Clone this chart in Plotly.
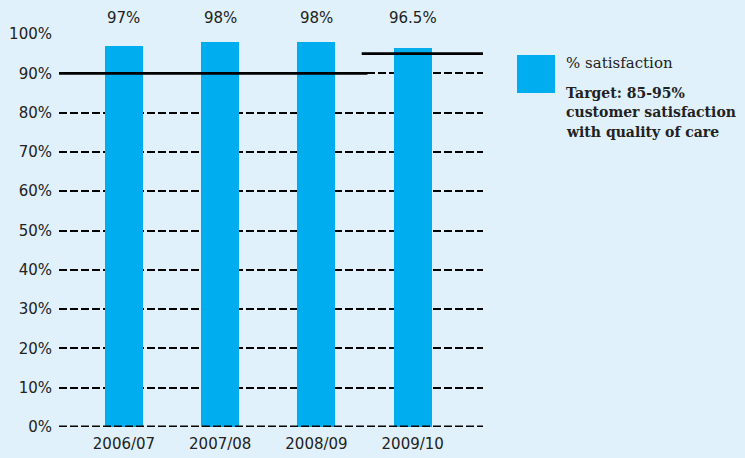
import plotly.graph_objects as go

# Customer satisfaction with quality of care, by year
years = ["2006/07", "2007/08", "2008/09", "2009/10"]
satisfaction = [97, 98, 98, 96.5]
value_labels = ["97%", "98%", "98%", "96.5%"]

# Target level in force for each year
target = [90, 90, 90, 95]

y_ticks = list(range(0, 101, 10))
y_tick_text = [f"{v}%" for v in y_ticks]

legend_title = "% satisfaction"
legend_note = ["Target: 85-95%", "customer satisfaction", "with quality of care"]

BG = "#E0F1FB"
BAR = "#00AEEF"
INK = "#222222"
DASH = "8px,3px"
TICK_FONT = dict(family="DejaVu Sans, sans-serif", size=15, color=INK)

PLOT_L, PLOT_R, PLOT_T, PLOT_B = 59, 483, 34, 427
W, H = 745, 458


def px_x(px):
    return (px - PLOT_L) / (PLOT_R - PLOT_L)


def px_y(py):
    return (PLOT_B - py) / (PLOT_B - PLOT_T)


x_pos = list(range(len(years)))
x_lo, x_hi = -0.675, 3.73

fig = go.Figure()

# Baseline at 0%, dashed like the gridlines
fig.add_shape(type="line", xref="paper", yref="y", x0=0, x1=1, y0=0.2, y1=0.2,
              line=dict(color="#000000", width=1.5, dash=DASH), layer="above")

fig.add_trace(go.Bar(
    x=x_pos, y=satisfaction, width=0.395,
    marker=dict(color=BAR, line=dict(width=0)),
    showlegend=False, hoverinfo="skip",
))

# Target lines: one segment per run of equal target values
segments = []
start = 0
for i in range(1, len(target) + 1):
    if i == len(target) or target[i] != target[start]:
        segments.append((start, i - 1, target[start]))
        start = i
for k, (a, b, level) in enumerate(segments):
    left = x_lo if k == 0 else a - 0.53
    right = x_hi if k == len(segments) - 1 else b + 0.53
    fig.add_trace(go.Scatter(
        x=[left, right], y=[level, level], mode="lines",
        line=dict(color="black", width=2.8),
        showlegend=False, hoverinfo="skip", cliponaxis=False,
    ))

# Value labels above the plot
for xp, txt in zip(x_pos, value_labels):
    fig.add_annotation(
        x=xp, y=100, yref="y", text=txt, showarrow=False,
        yanchor="bottom", yshift=5,
        font=dict(family="DejaVu Sans, sans-serif", size=15, color=INK),
    )

# Legend swatch and text
fig.add_shape(type="rect", xref="paper", yref="paper",
              x0=px_x(517), x1=px_x(555), y0=px_y(93), y1=px_y(55),
              fillcolor=BAR, line=dict(width=0))
fig.add_annotation(
    xref="paper", yref="paper", x=px_x(564), y=px_y(63),
    text=legend_title, showarrow=False, xanchor="left", yanchor="middle",
    font=dict(family="DejaVu Serif, serif", size=15, color=INK),
)
for j, line in enumerate(legend_note):
    fig.add_annotation(
        xref="paper", yref="paper", x=px_x(564), y=px_y(93 + 19.5 * j),
        text=f"<b>{line}</b>", showarrow=False, xanchor="left", yanchor="middle",
        font=dict(family="DejaVu Serif, serif", size=14, color=INK),
    )

fig.update_layout(
    width=W, height=H,
    margin=dict(l=PLOT_L, r=W - PLOT_R, t=PLOT_T, b=H - PLOT_B),
    paper_bgcolor=BG, plot_bgcolor=BG,
    bargap=0,
)
fig.update_xaxes(
    range=[x_lo, x_hi], tickvals=x_pos, ticktext=years,
    showgrid=False, zeroline=False, showline=False, automargin=False,
    tickfont=TICK_FONT, ticks="", ticklabelstandoff=6,
)
fig.update_yaxes(
    range=[0, 100], tickvals=y_ticks, ticktext=y_tick_text,
    showgrid=True, gridcolor="#000000", gridwidth=1.5, griddash=DASH,
    zeroline=False, showline=False, automargin=False, tickfont=TICK_FONT,
    ticks="", ticklabelstandoff=6,
)

fig.write_html("out.html")
